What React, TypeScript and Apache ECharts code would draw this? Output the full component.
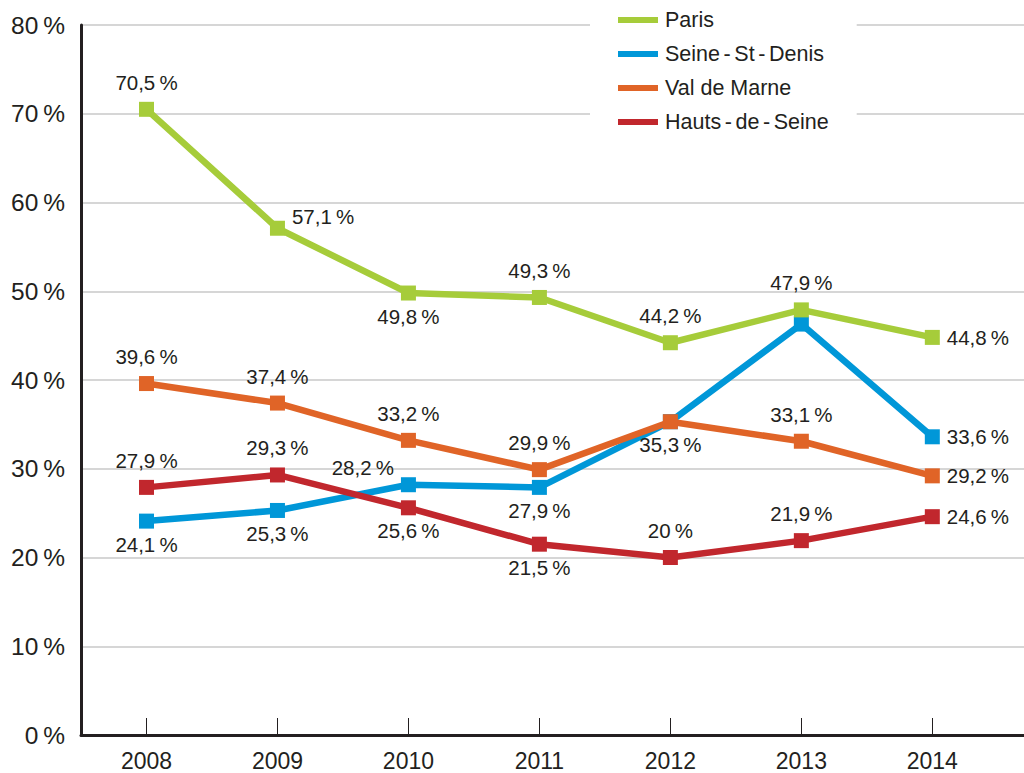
import React, { useEffect, useRef } from "react";
import * as echarts from "echarts";

const years = [2008, 2009, 2010, 2011, 2012, 2013, 2014];
const yTicks = [0, 10, 20, 30, 40, 50, 60, 70, 80];

const seriesNames = ["Paris", "Seine\u2006-\u2006St\u2006-\u2006Denis", "Val de Marne", "Hauts\u2006-\u2006de\u2006-\u2006Seine"];
const colors = ["#a6cc3a", "#0097d8", "#e06427", "#c1272d"];

const paris = [70.5, 57.1, 49.8, 49.3, 44.2, 47.9, 44.8];
const seineStDenis = [24.1, 25.3, 28.2, 27.9, 35.3, 46.3, 33.6];
const valDeMarne = [39.6, 37.4, 33.2, 29.9, 35.3, 33.1, 29.2];
const hautsDeSeine = [27.9, 29.3, 25.6, 21.5, 20, 21.9, 24.6];

// label placement per point: t = top, b = bottom, r = right, ur = upper right, ul = upper left, n = none
const parisPos = ["t", "ur", "b", "t", "t", "t", "r"];
const seinePos = ["b", "b", "ul", "b", "n", "n", "r"];
const valPos = ["t", "t", "t", "t", "b", "t", "r"];
const hautsPos = ["t", "t", "b", "b", "t", "t", "r"];

const allValues = [paris, seineStDenis, valDeMarne, hautsDeSeine];
const allPos = [parisPos, seinePos, valPos, hautsPos];
const zOrder = [5, 2, 4, 3];

const textColor = "#231f20";
const font = "'Liberation Sans', Arial, sans-serif";

function labelFor(pos: string) {
  switch (pos) {
    case "t":
      return { show: true, position: "top", distance: 9 };
    case "b":
      return { show: true, position: "bottom", distance: 5 };
    case "r":
      return { show: true, position: "right", distance: 7 };
    case "ur":
      return { show: true, position: "right", distance: 7, offset: [0, -12] };
    case "ul":
      return { show: true, position: "left", distance: 7, offset: [0, -17] };
    default:
      return { show: false };
  }
}

export default function App() {
  const ref = useRef<HTMLDivElement>(null);
  useEffect(() => {
    if (!ref.current) return;
    const chart = echarts.init(ref.current, null, { renderer: "svg" });
    const series = seriesNames.map((name, i) => ({
      name,
      type: "line",
      z: zOrder[i],
      symbol: "rect",
      symbolSize: 15,
      lineStyle: { width: 6.5, color: colors[i] },
      itemStyle: { color: colors[i] },
      label: {
        fontSize: 20.5,
        color: textColor,
        fontFamily: font,
        formatter: (p: any) => String(p.value[1]).replace(".", ",") + "\u2009%",
      },
      data: years.map((y, j) => ({
        value: [y, allValues[i][j]],
        label: labelFor(allPos[i][j]),
      })),
    }));
    chart.setOption({
      animation: false,
      backgroundColor: "#ffffff",
      textStyle: { fontFamily: font },
      grid: { left: 81, right: 0, top: 25, bottom: 38, containLabel: false },
      legend: {
        orient: "vertical",
        left: 590,
        top: 0,
        padding: [9, 28, 8, 28],
        backgroundColor: "#ffffff",
        itemWidth: 40,
        itemHeight: 6,
        itemGap: 12,
        icon: "rect",
        textStyle: { fontSize: 21.5, color: textColor, fontFamily: font, padding: [0, 0, 0, 2] },
        data: seriesNames,
        z: 10,
      },
      xAxis: {
        type: "value",
        min: 2007.5,
        max: 2014.7,
        axisLine: { show: true, lineStyle: { color: "#231f20", width: 3 } },
        axisTick: {
          show: true,
          inside: true,
          length: 17,
          customValues: years,
          lineStyle: { color: "#231f20", width: 1 },
        },
        axisLabel: {
          customValues: years,
          formatter: (v: number) => String(v),
          fontSize: 23,
          color: textColor,
          fontFamily: font,
          margin: 14,
        },
        splitLine: { show: false },
      },
      yAxis: {
        type: "value",
        min: yTicks[0],
        max: yTicks[yTicks.length - 1],
        interval: 10,
        axisLine: { show: true, lineStyle: { color: "#231f20", width: 3 } },
        axisTick: { show: false },
        axisLabel: {
          formatter: (v: number) => v + "\u2009%",
          fontSize: 24.5,
          color: textColor,
          fontFamily: font,
          margin: 16,
        },
        splitLine: { show: true, lineStyle: { color: "#c8c8c8", width: 1.5 } },
      },
      series,
    });
    return () => chart.dispose();
  }, []);
  return (
    <div
      ref={ref}
      style={{ position: "fixed", left: 0, top: 0, width: 1024, height: 773 }}
    />
  );
}
